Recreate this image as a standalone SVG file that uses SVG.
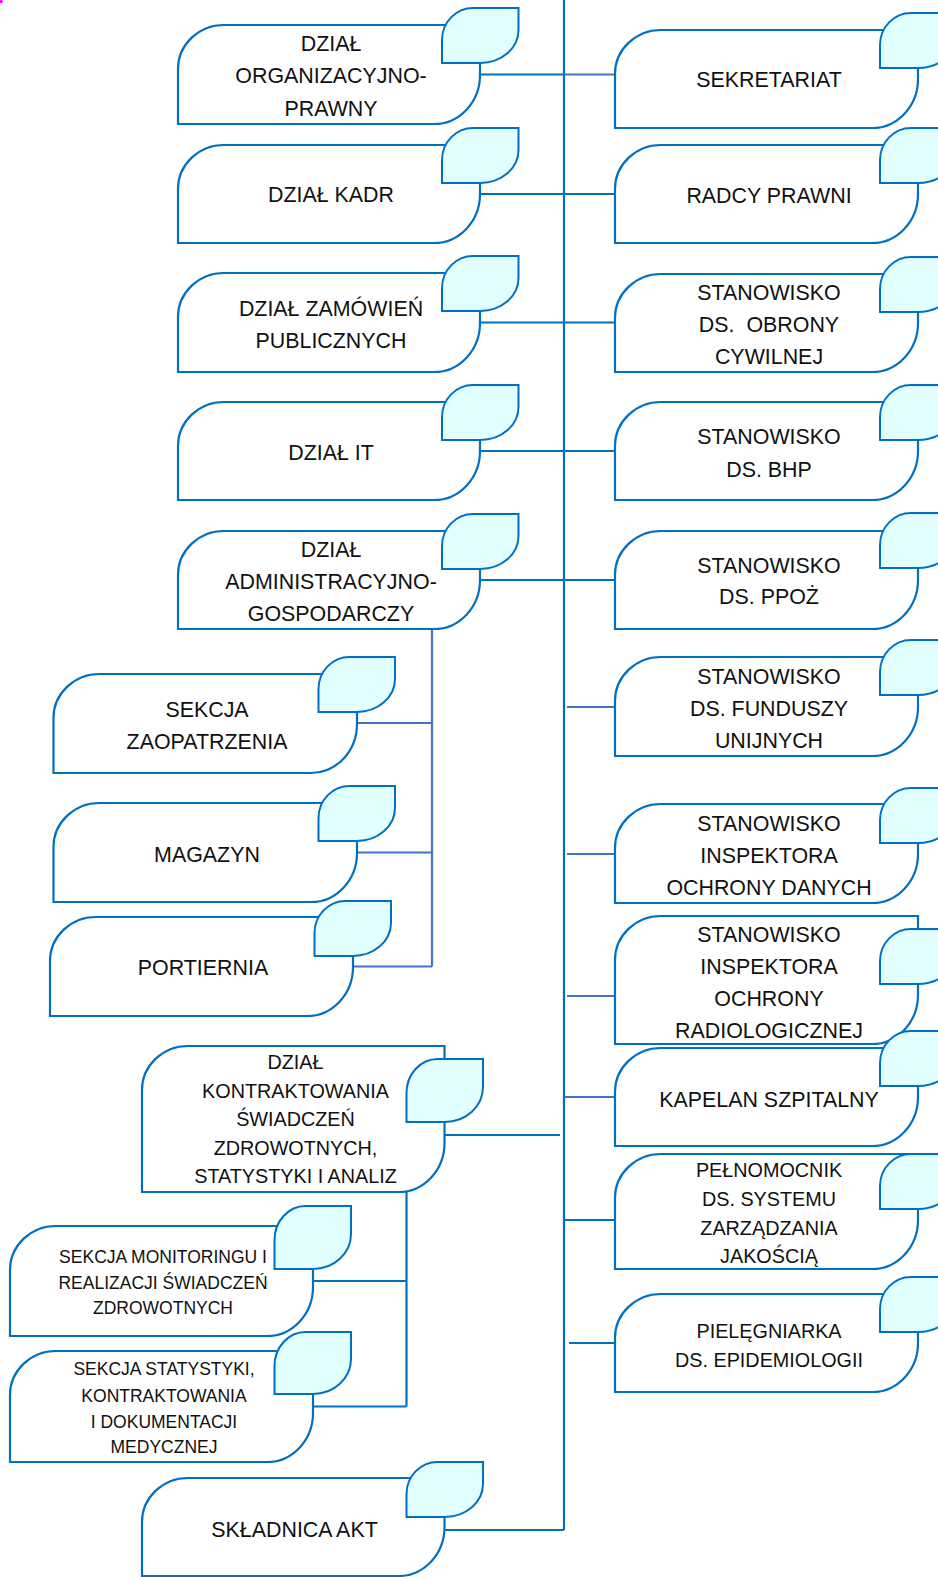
<svg xmlns="http://www.w3.org/2000/svg" width="938" height="1577" viewBox="0 0 938 1577">
<style>
.box{fill:#fff;stroke:#0070C0;stroke-width:2.2}
.leaf{fill:#E1FFFF;stroke:#0070C0;stroke-width:2}
.c{fill:none;stroke:#0070C0;stroke-width:2.2}
.c2{fill:none;stroke:#4472C4;stroke-width:2.2}
text{font-family:"Liberation Sans",Arial,sans-serif;fill:#111;text-anchor:middle}
.t21{font-size:21.4px}
.t19{font-size:19.8px}
.t17{font-size:17.5px}
</style>
<rect x="0" y="0" width="2.5" height="3" fill="#FF00FF"/>
<g id="connectors">
<path class="c" d="M564 0V1530"/>
<path class="c" d="M480 74.5H564"/><path class="c2" d="M564 74.5H615"/>
<path class="c" d="M480 194H615"/>
<path class="c" d="M480 322.5H615"/>
<path class="c" d="M480 451H615"/>
<path class="c" d="M480 580H615"/>
<path class="c2" d="M432 629V966.5"/>
<path class="c2" d="M357 723H432"/>
<path class="c2" d="M357 852.5H432"/>
<path class="c2" d="M353 966.5H432"/>
<path class="c" d="M444 1135H560"/>
<path class="c" d="M406.5 1192V1406.5"/>
<path class="c" d="M313 1281H406.5"/>
<path class="c" d="M313 1406.5H406.5"/>
<path class="c" d="M444 1530H564"/>
<path class="c2" d="M567 707H615"/>
<path class="c2" d="M567 854H615"/>
<path class="c2" d="M567 996H615"/>
<path class="c2" d="M564 1097H615"/>
<path class="c" d="M564 1220H615"/>
<path class="c" d="M569 1343H615"/>
</g>
<g id="n-org">
<path class="box" d="M178 69A46 44 0 0 1 224 25H480V75A46 49 0 0 1 434 124H178Z"/>
<path class="leaf" d="M442 40A31 32 0 0 1 473 8H518.5V30A38 33 0 0 1 480.5 63H442Z"/>
<text class="t21" x="331" y="51.2">DZIAŁ</text><text class="t21" x="331" y="83.4">ORGANIZACYJNO-</text><text class="t21" x="331" y="115.6">PRAWNY</text>
</g>
<g id="n-kadr">
<path class="box" d="M178 189A46 44 0 0 1 224 145H480V194A46 49 0 0 1 434 243H178Z"/>
<path class="leaf" d="M442 160A31 32 0 0 1 473 128H518.5V150A38 33 0 0 1 480.5 183H442Z"/>
<text class="t21" x="331" y="202">DZIAŁ KADR</text>
</g>
<g id="n-zam">
<path class="box" d="M178 317A46 44 0 0 1 224 273H480V323A46 49 0 0 1 434 372H178Z"/>
<path class="leaf" d="M442 288A31 32 0 0 1 473 256H518.5V278A38 33 0 0 1 480.5 311H442Z"/>
<text class="t21" x="331" y="315.7">DZIAŁ ZAMÓWIEŃ</text><text class="t21" x="331" y="347.8">PUBLICZNYCH</text>
</g>
<g id="n-it">
<path class="box" d="M178 446A46 44 0 0 1 224 402H480V451A46 49 0 0 1 434 500H178Z"/>
<path class="leaf" d="M442 417A31 32 0 0 1 473 385H518.5V407A38 33 0 0 1 480.5 440H442Z"/>
<text class="t21" x="331" y="460.4">DZIAŁ IT</text>
</g>
<g id="n-adm">
<path class="box" d="M178 575A46 44 0 0 1 224 531H480V580A46 49 0 0 1 434 629H178Z"/>
<path class="leaf" d="M442 546A31 32 0 0 1 473 514H518.5V536A38 33 0 0 1 480.5 569H442Z"/>
<text class="t21" x="331" y="557">DZIAŁ</text><text class="t21" x="331" y="589.1">ADMINISTRACYJNO-</text><text class="t21" x="331" y="621.3">GOSPODARCZY</text>
</g>
<g id="n-zaop">
<path class="box" d="M53.5 718A46 44 0 0 1 99.5 674H357V724A46 49 0 0 1 311 773H53.5Z"/>
<path class="leaf" d="M318.5 689A31 32 0 0 1 349.5 657H395V679A38 33 0 0 1 357 712H318.5Z"/>
<text class="t21" x="207" y="716.8">SEKCJA</text><text class="t21" x="207" y="749">ZAOPATRZENIA</text>
</g>
<g id="n-mag">
<path class="box" d="M53.5 847A46 44 0 0 1 99.5 803H357V853A46 49 0 0 1 311 902H53.5Z"/>
<path class="leaf" d="M318.5 818A31 32 0 0 1 349.5 786H395V808A38 33 0 0 1 357 841H318.5Z"/>
<text class="t21" x="207" y="861.6">MAGAZYN</text>
</g>
<g id="n-port">
<path class="box" d="M50 961A46 44 0 0 1 96 917H353V967A46 49 0 0 1 307 1016H50Z"/>
<path class="leaf" d="M314.5 933A31 32 0 0 1 345.5 901H391V923A38 33 0 0 1 353 956H314.5Z"/>
<text class="t21" x="203" y="975.2">PORTIERNIA</text>
</g>
<g id="n-kontr">
<path class="box" d="M142 1090A46 44 0 0 1 188 1046H444.5V1143A46 49 0 0 1 398.5 1192H142Z"/>
<path class="leaf" d="M406.5 1093A31 34 0 0 1 437.5 1059H483V1087A38 35 0 0 1 445 1122H406.5Z"/>
<text class="t19" x="295.5" y="1068.7">DZIAŁ</text><text class="t19" x="295.5" y="1097.9">KONTRAKTOWANIA</text><text class="t19" x="295.5" y="1126">ŚWIADCZEŃ</text><text class="t19" x="295.5" y="1155.2">ZDROWOTNYCH,</text><text class="t19" x="295.5" y="1183.3">STATYSTYKI I ANALIZ</text>
</g>
<g id="n-monit">
<path class="box" d="M10 1270A46 44 0 0 1 56 1226H313V1287A46 49 0 0 1 267 1336H10Z"/>
<path class="leaf" d="M274.5 1240A31 34 0 0 1 305.5 1206H351V1234A38 35 0 0 1 313 1269H274.5Z"/>
<text class="t17" x="163" y="1262.8">SEKCJA MONITORINGU I</text><text class="t17" x="163" y="1288.9">REALIZACJI ŚWIADCZEŃ</text><text class="t17" x="163" y="1314">ZDROWOTNYCH</text>
</g>
<g id="n-stat">
<path class="box" d="M10 1395A46 44 0 0 1 56 1351H313V1413A46 49 0 0 1 267 1462H10Z"/>
<path class="leaf" d="M274.5 1366A31 34 0 0 1 305.5 1332H351V1359A38 35 0 0 1 313 1394H274.5Z"/>
<text class="t17" x="164" y="1375.4">SEKCJA STATYSTYKI,</text><text class="t17" x="164" y="1401.5">KONTRAKTOWANIA</text><text class="t17" x="164" y="1427.6">I DOKUMENTACJI</text><text class="t17" x="164" y="1452.8">MEDYCZNEJ</text>
</g>
<g id="n-skl">
<path class="box" d="M142 1522A46 44 0 0 1 188 1478H444.5V1527A46 49 0 0 1 398.5 1576H142Z"/>
<path class="leaf" d="M406.5 1494A31 32 0 0 1 437.5 1462H483V1484A38 33 0 0 1 445 1517H406.5Z"/>
<text class="t21" x="294.5" y="1537.2">SKŁADNICA AKT</text>
</g>
<g id="n-sekr">
<path class="box" d="M615 74A46 44 0 0 1 661 30H918V79A46 49 0 0 1 872 128H615Z"/>
<path class="leaf" d="M880 45A31 32 0 0 1 911 13H956.5V35A38 33 0 0 1 918.5 68H880Z"/>
<text class="t21" x="769" y="87.4">SEKRETARIAT</text>
</g>
<g id="n-radcy">
<path class="box" d="M615 189A46 44 0 0 1 661 145H918V194A46 49 0 0 1 872 243H615Z"/>
<path class="leaf" d="M880 160A31 32 0 0 1 911 128H956.5V150A38 33 0 0 1 918.5 183H880Z"/>
<text class="t21" x="769" y="203">RADCY PRAWNI</text>
</g>
<g id="n-obr">
<path class="box" d="M615 318A46 44 0 0 1 661 274H918V323A46 49 0 0 1 872 372H615Z"/>
<path class="leaf" d="M880 289A31 32 0 0 1 911 257H956.5V279A38 33 0 0 1 918.5 312H880Z"/>
<text class="t21" x="769" y="299.6">STANOWISKO</text><text class="t21" x="769" y="331.7" xml:space="preserve">DS.  OBRONY</text><text class="t21" x="769" y="363.9">CYWILNEJ</text>
</g>
<g id="n-bhp">
<path class="box" d="M615 446A46 44 0 0 1 661 402H918V451A46 49 0 0 1 872 500H615Z"/>
<path class="leaf" d="M880 417A31 32 0 0 1 911 385H956.5V407A38 33 0 0 1 918.5 440H880Z"/>
<text class="t21" x="769" y="444.3">STANOWISKO</text><text class="t21" x="769" y="476.5">DS. BHP</text>
</g>
<g id="n-ppoz">
<path class="box" d="M615 575A46 44 0 0 1 661 531H918V580A46 49 0 0 1 872 629H615Z"/>
<path class="leaf" d="M880 545A31 32 0 0 1 911 513H956.5V535A38 33 0 0 1 918.5 568H880Z"/>
<text class="t21" x="769" y="573">STANOWISKO</text><text class="t21" x="769" y="604.2">DS. PPOŻ</text>
</g>
<g id="n-fund">
<path class="box" d="M615 701A46 44 0 0 1 661 657H918V707A46 49 0 0 1 872 756H615Z"/>
<path class="leaf" d="M880 672A31 32 0 0 1 911 640H956.5V662A38 33 0 0 1 918.5 695H880Z"/>
<text class="t21" x="769" y="683.6">STANOWISKO</text><text class="t21" x="769" y="715.8">DS. FUNDUSZY</text><text class="t21" x="769" y="748">UNIJNYCH</text>
</g>
<g id="n-dane">
<path class="box" d="M615 848A46 44 0 0 1 661 804H918V854A46 49 0 0 1 872 903H615Z"/>
<path class="leaf" d="M880 820A31 32 0 0 1 911 788H956.5V810A38 33 0 0 1 918.5 843H880Z"/>
<text class="t21" x="769" y="831.4">STANOWISKO</text><text class="t21" x="769" y="862.6">INSPEKTORA</text><text class="t21" x="769" y="894.8">OCHRONY DANYCH</text>
</g>
<g id="n-radio">
<path class="box" d="M615 960A46 44 0 0 1 661 916H918V995A46 49 0 0 1 872 1044H615Z"/>
<path class="leaf" d="M880 961A31 32 0 0 1 911 929H956.5V951A38 33 0 0 1 918.5 984H880Z"/>
<text class="t21" x="769" y="942">STANOWISKO</text><text class="t21" x="769" y="974.2">INSPEKTORA</text><text class="t21" x="769" y="1006.4">OCHRONY</text><text class="t21" x="769" y="1037.5">RADIOLOGICZNEJ</text>
</g>
<g id="n-kap">
<path class="box" d="M615 1092A46 44 0 0 1 661 1048H918V1097A46 49 0 0 1 872 1146H615Z"/>
<path class="leaf" d="M880 1063A31 32 0 0 1 911 1031H956.5V1053A38 33 0 0 1 918.5 1086H880Z"/>
<text class="t21" x="769" y="1106.9">KAPELAN SZPITALNY</text>
</g>
<g id="n-pelnom">
<path class="box" d="M615 1198A46 44 0 0 1 661 1154H918V1220A46 49 0 0 1 872 1269H615Z"/>
<path class="leaf" d="M880 1186A31 32 0 0 1 911 1154H956.5V1176A38 33 0 0 1 918.5 1209H880Z"/>
<text class="t19" x="769" y="1176.8">PEŁNOMOCNIK</text><text class="t19" x="769" y="1205.9">DS. SYSTEMU</text><text class="t19" x="769" y="1235.1">ZARZĄDZANIA</text><text class="t19" x="769" y="1263.2">JAKOŚCIĄ</text>
</g>
<g id="n-piel">
<path class="box" d="M615 1338A46 44 0 0 1 661 1294H918V1343A46 49 0 0 1 872 1392H615Z"/>
<path class="leaf" d="M880 1309A31 32 0 0 1 911 1277H956.5V1299A38 33 0 0 1 918.5 1332H880Z"/>
<text class="t19" x="769" y="1338.1">PIELĘGNIARKA</text><text class="t19" x="769" y="1367.3">DS. EPIDEMIOLOGII</text>
</g>
</svg>
